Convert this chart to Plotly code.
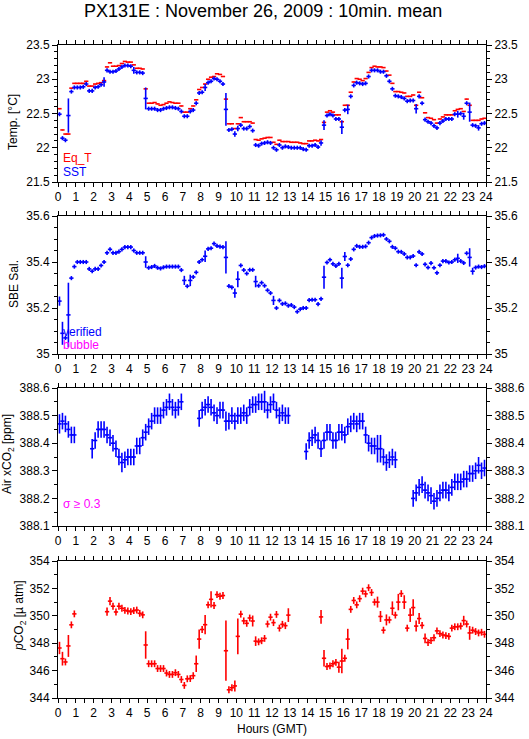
import plotly.graph_objects as go

# ---------------- data (10-minute means, 144 bins over 24 h) ----------------
hours = [(k + 0.5) / 6 for k in range(144)]

sst = [22.49, 22.14, 22.11, 22.47, 22.82, 22.88, 22.88, 22.88, 22.89, 22.93,
       22.83, 22.83, 22.88, 22.89, 22.92, 22.96, 23.13, 23.11, 23.11, 23.12,
       23.15, 23.18, 23.20, 23.20, 23.19, 23.13, 23.10, 23.10, 23.09, 22.72,
       22.57, 22.57, 22.57, 22.55, 22.55, 22.57, 22.58, 22.59, 22.59, 22.58,
       22.57, 22.53, 22.46, 22.46, 22.53, 22.55, 22.65, 22.80, 22.81, 22.88,
       22.95, 22.97, 23.01, 23.00, 22.97, 22.93, 22.56, 22.26, 22.27, 22.20,
       22.28, 22.33, 22.28, 22.28, 22.31, 22.25, 22.04, 22.03, 22.06, 22.07,
       22.08, 22.07, 22.00, 21.97, 22.04, 22.00, 22.02, 22.01, 22.00, 22.00,
       22.00, 22.00, 21.98, 21.97, 22.03, 22.03, 22.04, 22.01, 22.07, 22.33,
       22.47, 22.49, 22.47, 22.42, 22.42, 22.30, 22.55, 22.56, 22.75, 22.91,
       22.95, 22.94, 22.93, 22.94, 23.04, 23.13, 23.13, 23.13, 23.11, 23.11,
       23.05, 22.97, 22.86, 22.76, 22.75, 22.74, 22.72, 22.68, 22.69, 22.69,
       22.57, 22.75, 22.65, 22.41, 22.38, 22.36, 22.32, 22.29, 22.36, 22.39,
       22.42, 22.42, 22.42, 22.49, 22.49, 22.50, 22.46, 22.65, 22.52, 22.33,
       22.32, 22.29, 22.35, 22.36]
sst_err_base = 0.03
sst_err_big = {3: 0.25, 15: 0.07, 25: 0.05, 29: 0.16, 49: 0.05, 56: 0.24,
               59: 0.04, 60: 0.04, 88: 0.04, 89: 0.07, 95: 0.1, 97: 0.07,
               120: 0.07, 134: 0.05, 136: 0.05, 138: 0.14, 141: 0.04}

eq_t = [22.57, 22.26, 22.20, 22.20, 22.87, 22.94, 22.94, 22.94, 22.94, 22.97,
        22.90, 22.90, 22.93, 22.94, 22.95, 22.98, 23.18, 23.24, 23.19, 23.19,
        23.20, 23.23, 23.26, 23.25, 23.25, 23.21, 23.16, 23.16, 23.15, 22.86,
        22.65, 22.65, 22.66, 22.64, 22.62, 22.63, 22.65, 22.67, 22.66, 22.65,
        22.65, 22.61, 22.52, 22.52, 22.57, 22.61, 22.70, 22.85, 22.88, 22.93,
        23.00, 23.03, 23.04, 23.08, 23.07, 23.04, 22.71, 22.35, 22.35, 22.28,
        22.35, 22.44, 22.38, 22.38, 22.38, 22.36, 22.12, 22.11, 22.13, 22.14,
        22.15, 22.15, 22.08, 22.05, 22.11, 22.09, 22.09, 22.09, 22.08, 22.08,
        22.08, 22.07, 22.06, 22.06, 22.10, 22.10, 22.11, 22.10, 22.12, 22.37,
        22.52, 22.54, 22.52, 22.48, 22.48, 22.38, 22.62, 22.62, 22.81, 22.96,
        23.01, 23.00, 22.98, 23.01, 23.10, 23.17, 23.19, 23.18, 23.18, 23.17,
        23.12, 23.06, 22.94, 22.82, 22.82, 22.81, 22.80, 22.75, 22.75, 22.77,
        22.62, 22.81, 22.73, 22.51, 22.44, 22.43, 22.41, 22.36, 22.42, 22.45,
        22.48, 22.48, 22.48, 22.54, 22.56, 22.57, 22.53, 22.71, 22.62, 22.40,
        22.40, 22.40, 22.42, 22.43]

sal = [35.23, 35.09, 35.07, 35.17, 35.33, 35.38, 35.40, 35.40, 35.40, 35.40,
       35.37, 35.36, 35.37, 35.37, 35.385, 35.40, 35.44, 35.455, 35.44, 35.44,
       35.445, 35.455, 35.465, 35.465, 35.465, 35.45, 35.44, 35.44, 35.44, 35.40,
       35.375, 35.378, 35.383, 35.375, 35.372, 35.377, 35.38, 35.38, 35.38, 35.38,
       35.38, 35.365, 35.32, 35.295, 35.32, 35.335, 35.355, 35.40, 35.41, 35.425,
       35.457, 35.46, 35.48, 35.47, 35.467, 35.465, 35.42, 35.295, 35.29, 35.265,
       35.325, 35.385, 35.365, 35.35, 35.366, 35.366, 35.315, 35.297, 35.31, 35.297,
       35.277, 35.265, 35.233, 35.20, 35.233, 35.218, 35.22, 35.21, 35.213, 35.204,
       35.184, 35.195, 35.20, 35.20, 35.234, 35.236, 35.236, 35.217, 35.24, 35.334,
       35.398, 35.41, 35.392, 35.383, 35.392, 35.33, 35.424, 35.386, 35.413, 35.455,
       35.47, 35.466, 35.466, 35.468, 35.484, 35.506, 35.513, 35.515, 35.516, 35.518,
       35.50, 35.49, 35.466, 35.46, 35.445, 35.444, 35.435, 35.42, 35.42, 35.426,
       35.386, 35.444, 35.435, 35.39, 35.376, 35.395, 35.375, 35.353, 35.386, 35.404,
       35.404, 35.398, 35.40, 35.41, 35.416, 35.404, 35.396, 35.438, 35.42, 35.36,
       35.376, 35.38, 35.378, 35.382]
sal_err_base = 0.009
sal_err_big = {0: 0.02, 1: 0.05, 3: 0.14, 29: 0.025, 42: 0.02, 44: 0.025,
               49: 0.025, 56: 0.07, 59: 0.02, 60: 0.035, 66: 0.025, 72: 0.02,
               89: 0.05, 95: 0.045, 96: 0.02, 134: 0.02, 138: 0.04, 139: 0.015}

air = ([388.47, 388.48, 388.47, 388.45, 388.43, 388.43]
       + [None] * 5
       + [388.38, 388.41, 388.45, 388.45, 388.45, 388.43, 388.42, 388.40, 388.38,
          388.35, 388.33, 388.34, 388.35, 388.35, 388.35, 388.39, 388.39, 388.42,
          388.44, 388.46, 388.48, 388.50, 388.50, 388.50, 388.52, 388.53, 388.55,
          388.53, 388.52, 388.53, 388.55]
       + [None] * 5
       + [388.49, 388.52, 388.53, 388.54, 388.53, 388.51, 388.50, 388.52, 388.52,
          388.48, 388.48, 388.50, 388.48, 388.50, 388.50, 388.51, 388.50, 388.53,
          388.54, 388.54, 388.55, 388.55, 388.55, 388.52, 388.54, 388.55, 388.52,
          388.50, 388.51, 388.50, 388.50]
       + [None] * 5
       + [388.37, 388.41, 388.42, 388.43, 388.41, 388.38, 388.41, 388.44, 388.44,
          388.41, 388.41, 388.44, 388.44, 388.43, 388.46, 388.47, 388.48, 388.47,
          388.48, 388.48, 388.43, 388.40, 388.39, 388.39, 388.38, 388.38, 388.35,
          388.33, 388.34, 388.35, 388.34]
       + [None] * 5
       + [388.20, 388.22, 388.24, 388.25, 388.23, 388.22, 388.21, 388.19, 388.20,
          388.22, 388.23, 388.23, 388.22, 388.24, 388.26, 388.26, 388.26, 388.27,
          388.27, 388.29, 388.29, 388.30, 388.32, 388.30, 388.31])
air_err_base = 0.03
air_err_big = {0: 0.035, 11: 0.035, 21: 0.035, 56: 0.035, 69: 0.04,
               107: 0.05, 108: 0.05, 120: 0.03}

pco2 = ([347.65, 346.87, 346.63, 347.8, 349.34, 350.14]
        + [None] * 10
        + [350.3, 351.07, 350.7, 350.28, 350.7, 350.55, 350.4, 350.35, 350.3,
           350.38, 350.42, 350.18, 350.07, 347.87]
        + [346.5, 346.5, 346.5, 346.15, 346.15, 346.15, 345.82, 345.72, 345.72,
           345.85, 345.72, 345.35, 344.92, 345.4, 345.42, 345.63]
        + [346.5, 348.3, 349.0, 349.35, 350.8, 351.2, 350.75, 351.55, 351.43, 351.48]
        + [347.45, 344.6, 344.75, 344.88, 348.5, 350.12, 349.63, 349.45, 349.84, 349.62]
        + [348.15, 348.1, 348.18, 348.35, 349.4, 349.9, 349.5, 350.1, 349.1,
           349.38, 349.28, 350.05]
        + [None] * 10
        + [349.92, 346.9, 346.3, 346.35, 346.5, 346.6, 346.25, 346.7, 346.9, 348.3,
           350.47, 351.12, 350.8, 351.25, 351.8, 351.6, 352.05, 351.7, 351.0, 351.0,
           349.95, 348.95, 349.7, 349.7, 350.55, 350.05, 351.0, 351.62, 351.0, 349.1,
           350.05, 350.6, 349.25, 349.8, 349.3, 348.35, 348.05, 348.2, 348.4, 348.9,
           348.7, 348.6, 348.55, 348.5, 349.1, 349.2, 349.2, 349.25, 349.65, 349.4,
           348.75, 348.95, 348.85, 348.75, 348.8, 348.65])
pco2_err_base = 0.25
pco2_err_big = {0: 0.45, 1: 0.5, 3: 0.8, 16: 0.3, 17: 0.3, 29: 1.0, 46: 0.6,
                47: 0.7, 49: 0.7, 51: 0.6, 56: 2.2, 59: 0.4, 60: 1.3, 65: 0.4,
                66: 0.35, 77: 0.5, 88: 0.5, 89: 0.6, 94: 0.4, 95: 0.9, 97: 0.75,
                107: 0.4, 108: 0.4, 110: 0.4, 112: 0.5, 114: 0.6, 116: 0.5,
                118: 0.5, 119: 0.6, 120: 0.4, 121: 0.4, 123: 0.35, 136: 0.35,
                138: 0.5}

for arr in (sst, eq_t, sal, air, pco2):
    assert len(arr) == 144, len(arr)

# ---------------- styling ----------------
FONT = "Liberation Sans, Arial, Helvetica, sans-serif"
BLUE = "#0000ff"
RED = "#ff0000"
MAGENTA = "#ff00ff"
HALF_BIN = 0.12  # drawn half-width of 10-min bar, hours
W, H = 529, 739
ML, MR, MT, MB = 58, 43, 45, 41
PLOT_H = H - MT - MB

def errs(base, big):
    return [big.get(i, base) for i in range(144)]

fig = go.Figure()

def add_series(vals, color, row, err=None):
    xa = "x" if row == 1 else f"x{row}"
    ya = "y" if row == 1 else f"y{row}"
    kw = dict(
        x=hours, y=vals, mode="markers", xaxis=xa, yaxis=ya,
        marker=dict(size=1, color=color),
        error_x=dict(type="constant", value=HALF_BIN, width=0, thickness=1.6, color=color),
        showlegend=False, hoverinfo="skip",
    )
    if err is not None:
        kw["error_y"] = dict(type="data", array=err, width=0, thickness=1.6, color=color)
    fig.add_trace(go.Scatter(**kw))

add_series(eq_t, RED, 1)
add_series(sst, BLUE, 1, errs(sst_err_base, sst_err_big))
add_series(sal, BLUE, 2, errs(sal_err_base, sal_err_big))
add_series(air, BLUE, 3, errs(air_err_base, air_err_big))
add_series(pco2, RED, 4, errs(pco2_err_base, pco2_err_big))

ranges = [[21.5, 23.5], [35.0, 35.6], [388.1, 388.6], [344, 354]]
dticks = [0.5, 0.2, 0.1, 2]
minors = [0.1, 0.05, 0.05, 1]
titles = ["Temp. [°C]", "SBE Sal.", "Air xCO<sub>2</sub> [ppm]",
          "<i>p</i>CO<sub>2</sub> [µ atm]"]
# title centre positions in pixels (x from left, y from top)
title_pos = [(13, 122), (14, 284), (8, 454), (20, 616)]
domains = [[0.7902, 1.0], [0.5268, 0.7381], [0.2634, 0.4747], [0.0, 0.2098]]

tickfont = dict(family=FONT, size=12, color="black")
layout = dict(
    width=W, height=H,
    margin=dict(l=ML, r=MR, t=MT, b=MB, autoexpand=False),
    paper_bgcolor="white", plot_bgcolor="white",
    font=dict(family=FONT, size=12, color="black"),
    showlegend=False,
)

for i in range(4):
    n = i + 1
    xk = "xaxis" if n == 1 else f"xaxis{n}"
    yk = "yaxis" if n == 1 else f"yaxis{n}"
    yr = "y" if n == 1 else f"y{n}"
    xr = "x" if n == 1 else f"x{n}"
    layout[xk] = dict(
        range=[0, 24], domain=[0, 1], anchor=yr, automargin=False,
        tickmode="linear", tick0=0, dtick=1,
        ticks="outside", ticklen=4, tickwidth=1, tickcolor="black",
        minor=dict(dtick=0.5, tick0=0, ticks="outside", ticklen=4, tickwidth=1, tickcolor="black"),
        showline=True, linecolor="black", linewidth=1, mirror="ticks",
        showgrid=False, zeroline=False, tickfont=tickfont, fixedrange=True,
    )
    lo, hi = ranges[i]
    tv = []
    v = lo
    while v <= hi + 1e-9:
        tv.append(round(v, 3))
        v += dticks[i]
    tt = [f"{t:g}" for t in tv]
    common_y = dict(
        range=ranges[i], tickmode="array", tickvals=tv, ticktext=tt, automargin=False,
        ticks="outside", ticklen=5, tickwidth=1, tickcolor="black",
        minor=dict(dtick=minors[i], tick0=lo, ticks="outside", ticklen=3, tickwidth=1, tickcolor="black"),
        showline=True, linecolor="black", linewidth=1,
        showgrid=False, zeroline=False, tickfont=tickfont, fixedrange=True,
    )
    layout[yk] = dict(common_y, domain=domains[i], anchor=xr, mirror=True)
    rk = f"yaxis{n + 4}"
    layout[rk] = dict(common_y, overlaying=yr, side="right", anchor=xr)
    fig.add_trace(go.Scatter(x=[None], y=[None], xaxis=xr, yaxis=f"y{n + 4}",
                             showlegend=False, hoverinfo="skip"))

fig.update_layout(**layout)

ann = [
    dict(text="PX131E : November 26, 2009 : 10min. mean", xref="paper", yref="paper",
         x=0.48, y=1.0, yshift=34, xanchor="center", yanchor="middle", showarrow=False,
         font=dict(family=FONT, size=18, color="black")),
    dict(text="Hours (GMT)", xref="paper", yref="paper", x=0.5, y=0, yshift=-31,
         xanchor="center", yanchor="middle", showarrow=False,
         font=dict(family=FONT, size=12, color="black")),
    dict(text="Eq_T", xref="x domain", yref="y domain", x=0.008, y=0.175,
         xanchor="left", yanchor="middle", showarrow=False,
         font=dict(family=FONT, size=12, color=RED)),
    dict(text="SST", xref="x domain", yref="y domain", x=0.008, y=0.075,
         xanchor="left", yanchor="middle", showarrow=False,
         font=dict(family=FONT, size=12, color=BLUE)),
    dict(text="verified", xref="x2 domain", yref="y2 domain", x=0.008, y=0.16,
         xanchor="left", yanchor="middle", showarrow=False,
         font=dict(family=FONT, size=12, color=BLUE)),
    dict(text="bubble", xref="x2 domain", yref="y2 domain", x=0.008, y=0.065,
         xanchor="left", yanchor="middle", showarrow=False,
         font=dict(family=FONT, size=12, color=MAGENTA)),
    dict(text="σ ≥ 0.3", xref="x3 domain", yref="y3 domain", x=0.008, y=0.16,
         xanchor="left", yanchor="middle", showarrow=False,
         font=dict(family=FONT, size=12, color=MAGENTA)),
]
for (cx, cy), t in zip(title_pos, titles):
    ann.append(dict(text=t, xref="paper", yref="paper", x=0, xshift=cx - ML,
                    y=(H - MB - cy) / PLOT_H, xanchor="center", yanchor="middle",
                    textangle=-90, showarrow=False,
                    font=dict(family=FONT, size=12, color="black")))
fig.update_layout(annotations=ann)

fig.write_html("out.html", config={"displayModeBar": False, "staticPlot": True})

# remove default browser body margin so the figure sits at the page origin
with open("out.html", "r", encoding="utf-8") as f:
    html = f.read()
html = html.replace("<body>", '<body style="margin:0;padding:0;">', 1)
html = html.replace("<head>", "<head><style>html,body{margin:0;padding:0;overflow:hidden;}</style>", 1)
with open("out.html", "w", encoding="utf-8") as f:
    f.write(html)
